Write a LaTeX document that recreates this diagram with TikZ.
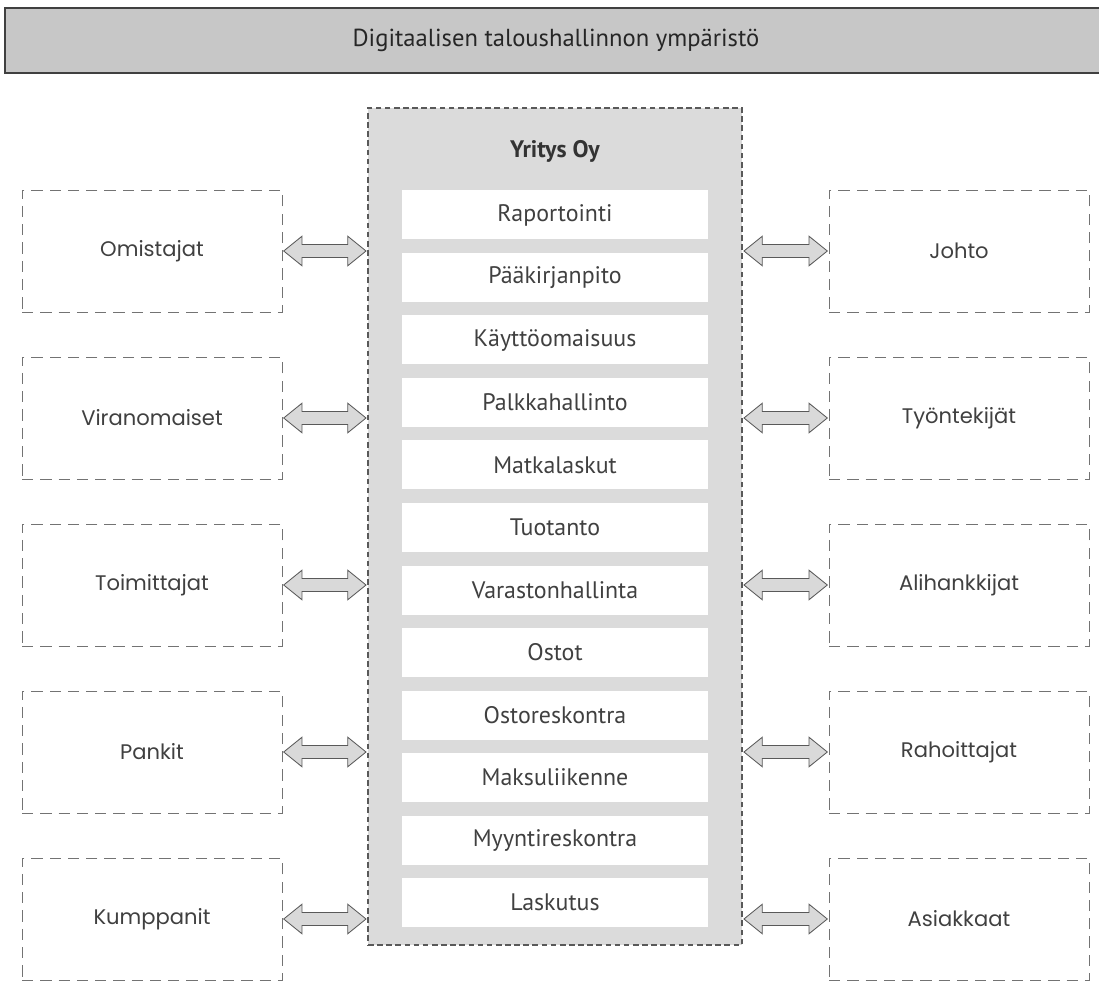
\documentclass[tikz,border=0pt]{standalone}
\usepackage{fontspec}
\setmainfont{PT Sans}
\newfontfamily\outerfont{Poppins}
\usetikzlibrary{calc,positioning}

\begin{document}
\begin{tikzpicture}[
	unit/.style={fill=white, minimum height=12.25mm, minimum width=76.5mm, text=black!75, font=\fontsize{17}{20}\selectfont},
	party/.style={draw=black!55, dash pattern=on 8pt off 5pt, minimum height=30.5mm, minimum width=65mm, text=black!75, font=\outerfont\fontsize{15}{18}\selectfont},
	flow/.style={draw=black!65, fill=black!15, line width=0.6pt, line join=miter,
		to path={let \p1=(\tikztostart), \p2=(\tikztotarget) in
			(\x1,\y1) -- (\x1+13pt,\y1+10.5pt) -- (\x1+13pt,\y1+4.6pt) -- (\x2-13pt,\y1+4.6pt)
			-- (\x2-13pt,\y1+10.5pt) -- (\x2,\y1) -- (\x2-13pt,\y1-10.5pt) -- (\x2-13pt,\y1-4.6pt)
			-- (\x1+13pt,\y1-4.6pt) -- (\x1+13pt,\y1-10.5pt) -- cycle}},
	node distance=15.625mm,
	]

	\useasboundingbox (0,0) rectangle (27.475,-25.125);

	\node[fill=black!22, draw=black!75, line width=1.8pt, minimum width=27.55cm, minimum height=16.25mm, text=black!85, font=\fontsize{17.5}{20}\selectfont] (title) at (13.9,-1.0125) {Digitaalisen taloushallinnon ympäristö};

	\node[draw=black!65, line width=0.8pt, dash pattern=on 4pt off 2.5pt, fill=black!14, minimum width=93.5mm, minimum height=209.25mm] (yritys) at (13.875,-13.1625) {};
	\node[text=black!80, font=\bfseries\fontsize{17}{20}\selectfont] (yritysname) at ([yshift=-11mm]yritys.north) {Yritys Oy};

	% toiminnot
	\node[unit] (rap) at (13.875,-5.375) {Raportointi};
	\node[unit, below of=rap] (paa) {Pääkirjanpito};
	\node[unit, below of=paa] (kay) {Käyttöomaisuus};
	\node[unit, below of=kay] (pal) {Palkkahallinto};
	\node[unit, below of=pal] (mat) {Matkalaskut};
	\node[unit, below of=mat] (tuo) {Tuotanto};
	\node[unit, below of=tuo] (var) {Varastonhallinta};
	\node[unit, below of=var] (ost) {Ostot};
	\node[unit, below of=ost] (ostres) {Ostoreskontra};
	\node[unit, below of=ostres] (mak) {Maksuliikenne};
	\node[unit, below of=mak] (myyres) {Myyntireskontra};
	\node[unit, below of=myyres] (las) {Laskutus};

	% sidosryhmat
	\node[party] (omi) at (3.8,-6.275) {Omistajat};
	\node[party, below of=omi, node distance=41.75mm] (vir) {Viranomaiset};
	\node[party, below of=vir, node distance=41.75mm] (toi) {Toimittajat};
	\node[party, below of=toi, node distance=41.75mm] (pan) {Pankit};
	\node[party, below of=pan, node distance=41.75mm] (kum) {Kumppanit};

	\node[party] (joh) at (23.975,-6.275) {Johto};
	\node[party, below of=joh, node distance=41.75mm] (tyo) {Työntekijät};
	\node[party, below of=tyo, node distance=41.75mm] (ali) {Alihankkijat};
	\node[party, below of=ali, node distance=41.75mm] (rah) {Rahoittajat};
	\node[party, below of=rah, node distance=41.75mm] (asi) {Asiakkaat};

	\draw[flow] ([xshift=1pt]omi.east) to ([xshift=-1pt]omi.east -| yritys.west);
	\draw[flow] ([xshift=1pt]vir.east) to ([xshift=-1pt]vir.east -| yritys.west);
	\draw[flow] ([xshift=1pt]toi.east) to ([xshift=-1pt]toi.east -| yritys.west);
	\draw[flow] ([xshift=1pt]pan.east) to ([xshift=-1pt]pan.east -| yritys.west);
	\draw[flow] ([xshift=1pt]kum.east) to ([xshift=-1pt]kum.east -| yritys.west);

	\draw[flow] ([xshift=1pt]joh.west -| yritys.east) to ([xshift=-1pt]joh.west);
	\draw[flow] ([xshift=1pt]tyo.west -| yritys.east) to ([xshift=-1pt]tyo.west);
	\draw[flow] ([xshift=1pt]ali.west -| yritys.east) to ([xshift=-1pt]ali.west);
	\draw[flow] ([xshift=1pt]rah.west -| yritys.east) to ([xshift=-1pt]rah.west);
	\draw[flow] ([xshift=1pt]asi.west -| yritys.east) to ([xshift=-1pt]asi.west);

\end{tikzpicture}
\end{document}
